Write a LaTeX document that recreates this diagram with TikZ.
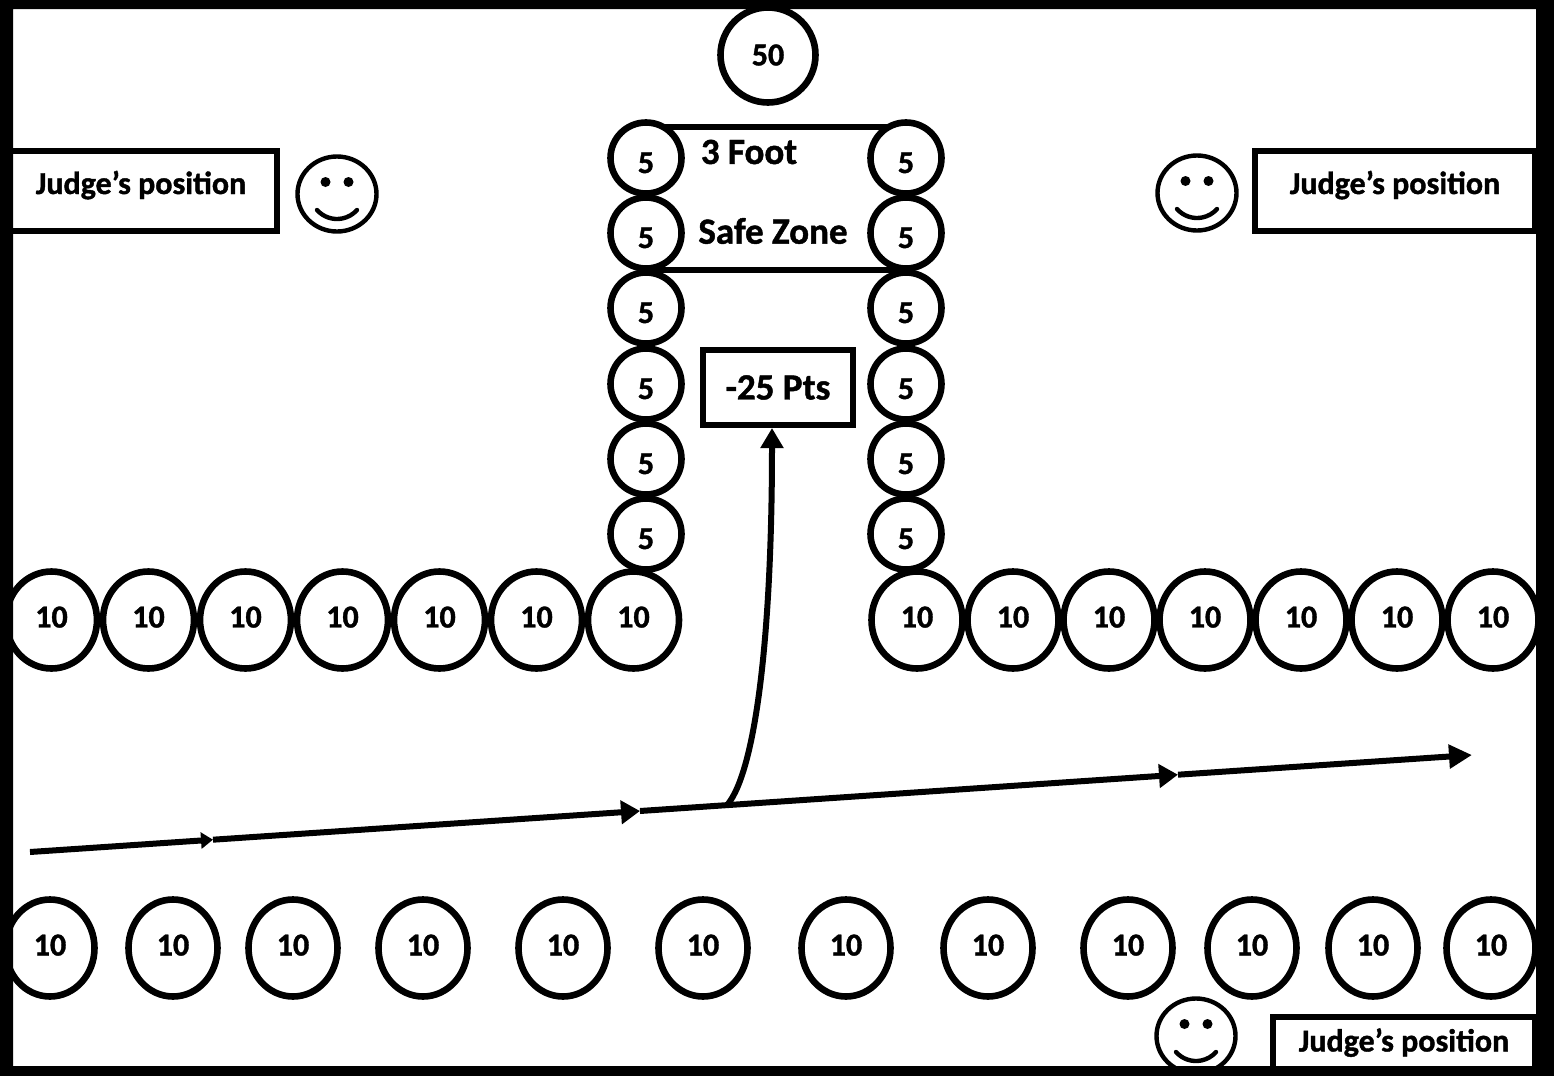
\documentclass[tikz,border=0pt]{standalone}
\usepackage{fontspec}
\setmainfont{Carlito}[BoldFont={Carlito Bold},BoldFeatures={FakeBold=1.2}]
\usetikzlibrary{shapes.geometric,arrows.meta,calc}
\begin{document}
\begin{tikzpicture}[x=0.5pt,y=-0.5pt,
  lbl/.style={font=\fontsize{16}{19}\selectfont\bfseries},
  bigtxt/.style={font=\fontsize{18.5}{22}\selectfont\bfseries},
  tenA/.style={ellipse, draw, fill=white, line width=3.3pt, minimum width=45.5pt, minimum height=48.5pt, inner sep=0pt, lbl, text depth=3pt},
  tenB/.style={ellipse, draw, fill=white, line width=3.3pt, minimum width=44.5pt, minimum height=48.5pt, inner sep=0pt, lbl, text depth=3pt},
  fiveC/.style={circle, draw, fill=white, line width=3.3pt, minimum size=35.5pt, inner sep=0pt, lbl, text height=15pt, text depth=0pt},
  fiftyC/.style={circle, draw, fill=white, line width=3.3pt, minimum size=47.5pt, inner sep=0pt, lbl},
  judgebox/.style={draw, fill=white, line width=3pt, inner sep=0pt, lbl, text height=8pt, text depth=5pt},
  penbox/.style={draw, fill=white, line width=3pt, inner sep=0pt, bigtxt, minimum width=75pt, minimum height=37.5pt},
  face/.style={ellipse, draw, line width=2.2pt, minimum width=39.5pt, minimum height=37.5pt, inner sep=0pt},
  facepart/.style={line width=2.2pt, line cap=round},
  track/.style={line width=3pt},
  zone/.style={line width=3pt},
  plain/.style={inner sep=0pt, bigtxt}
]
\useasboundingbox (0,0) rectangle (1554,1076);
\fill[white] (0,0) rectangle (1554,1076);

% safe zone frame
\draw[zone] (646,127) rectangle (906,270);

% 50
\node[fiftyC] (c50) at (768,55) {50};

% columns of 5
\foreach \i/\y in {1/158,2/233,3/308,4/384,5/459,6/534}{
  \node[fiveC] (L\i) at (646,\y) {5};
  \node[fiveC] (R\i) at (906,\y) {5};
}
\node[plain] (foot) at (749,152) {3 Foot};
\node[plain] (safe) at (773,231) {Safe Zone};

% -25 box
\node[penbox] (pen) at (778,387.5) {-25 Pts};

% top rows of 10
\foreach \i in {1,...,7}{
  \node[tenA] (A\i) at ({51.5+97*(\i-1)},620) {10};
  \node[tenA] (B\i) at ({917+96*(\i-1)},620) {10};
}
% bottom row of 10
\foreach \x [count=\i] in {50,173,293,423,563,703,846,988,1128,1252,1373,1491}{
  \node[tenB] (C\i) at (\x,948) {10};
}

% track
\coordinate (s) at (30,852);
\coordinate (m1) at (213,839.7);
\coordinate (m2) at (640,811);
\coordinate (m3) at (1178,774.7);
\coordinate (e) at (1472,755);
\coordinate (br) at (728,804);
\draw[track,-{Triangle[length=6pt,width=8pt]}] (s) -- (m1);
\draw[track,-{Triangle[length=9.5pt,width=11.5pt]}] (m1) -- (m2);
\draw[track,-{Triangle[length=9.5pt,width=11.5pt]}] (m2) -- (m3);
\draw[track,-{Triangle[length=11.5pt,width=11.5pt]}] (m3) -- (e);
\draw[track,-{Triangle[length=10pt,width=11pt]}] (br) .. controls (755,770) and (772,640) .. ([xshift=-3pt]pen.south);

% judges
\node[judgebox, minimum width=136pt, minimum height=39.75pt] (j1) at (141,191) {Judge’s position};
\node[judgebox, minimum width=140pt, minimum height=39.75pt] (j2) at (1395,191) {Judge’s position};
\node[judgebox, minimum width=131pt, minimum height=31.5pt] (j3) at (1404,1048.5) {Judge’s position};

% smileys
\foreach \n/\p in {f1/{(337,194)},f2/{(1197,193)},f3/{(1196,1036)}}{
  \node[face] (\n) at \p {};
  \fill ($(\n.center)+(-11.5,-12)$) circle (5);
  \fill ($(\n.center)+(11.5,-12)$) circle (5);
  \draw[facepart] ($(\n.center)+(-20,16)$) arc[start angle=138.5, end angle=41.5, radius=26.7];
}

% outer frame
\fill[black, even odd rule] (0,0) rectangle (1554,1076) (13,9) rectangle (1536,1066);
\end{tikzpicture}
\end{document}
